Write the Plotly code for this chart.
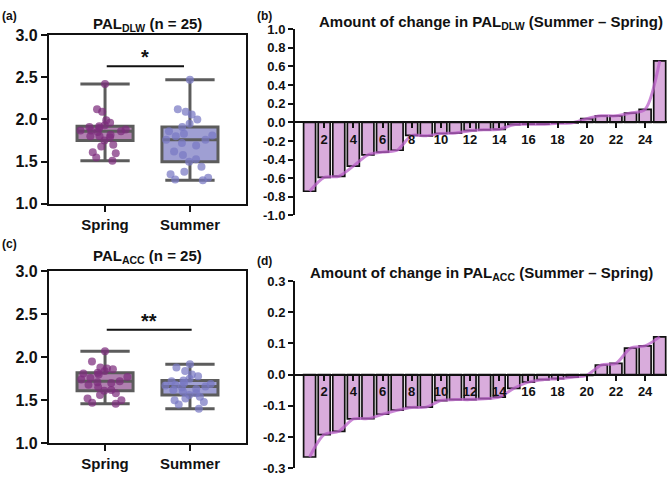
import numpy as np
import plotly.graph_objects as go

# ---------------- data ----------------
seasons = ["Spring", "Summer"]

dlw_spring = [1.51, 1.55, 1.60, 1.61, 1.68, 1.70, 1.75, 1.79, 1.80, 1.80, 1.82, 1.85, 1.86,
              1.87, 1.87, 1.88, 1.90, 1.91, 1.92, 1.93, 1.96, 1.99, 2.09, 2.12, 2.42]
dlw_summer = [1.28, 1.29, 1.31, 1.35, 1.38, 1.44, 1.50, 1.53, 1.58, 1.62, 1.69, 1.72, 1.76,
              1.76, 1.80, 1.81, 1.83, 1.86, 1.91, 1.95, 2.00, 2.06, 2.09, 2.12, 2.47]
acc_spring = [1.46, 1.47, 1.50, 1.52, 1.56, 1.58, 1.61, 1.62, 1.65, 1.68, 1.70, 1.71, 1.72,
              1.74, 1.76, 1.77, 1.80, 1.81, 1.82, 1.84, 1.86, 1.87, 1.88, 1.95, 2.07]
acc_summer = [1.40, 1.45, 1.48, 1.50, 1.52, 1.54, 1.56, 1.58, 1.60, 1.62, 1.63, 1.65, 1.66,
              1.67, 1.68, 1.69, 1.70, 1.72, 1.73, 1.75, 1.78, 1.80, 1.84, 1.88, 1.92]

ranks = list(range(1, 26))
dlw_change = [-0.74, -0.59, -0.58, -0.47, -0.35, -0.32, -0.30, -0.14, -0.145, -0.12, -0.115,
              -0.09, -0.08, -0.075, -0.025, -0.02, -0.02, -0.01, -0.005, 0.04, 0.07, 0.07,
              0.10, 0.14, 0.66]
acc_change = [-0.264, -0.192, -0.182, -0.142, -0.141, -0.127, -0.114, -0.105, -0.104, -0.083,
              -0.080, -0.080, -0.077, -0.072, -0.044, -0.024, -0.016, -0.013, -0.008, -0.002,
              0.031, 0.036, 0.085, 0.092, 0.121]

sig_labels = ["*", "**"]
sig_levels = [2.63, 2.32]
sig_ends = [0.93, 1.02]

# ---------------- helpers ----------------
W, H = 669, 484
FONT = "Arial, Liberation Sans, sans-serif"


def px_x(v):
    return v / W


def px_y(v):
    return 1 - v / H


spring_pt = "rgba(125,45,125,0.72)"
spring_fill = "rgba(150,85,150,0.75)"
summer_pt = "rgba(120,120,195,0.72)"
summer_fill = "rgba(135,135,200,0.8)"
box_line = "#5c5c5c"

fig = go.Figure()


def add_boxes(xa, ya, groups):
    for i, (vals, fill, pt) in enumerate(groups):
        arr = np.array(vals)
        q1, med, q3 = np.percentile(arr, [25, 50, 75])
        fig.add_trace(go.Box(
            x=[i], q1=[q1], median=[med], q3=[q3],
            lowerfence=[arr.min()], upperfence=[arr.max()],
            width=0.66, whiskerwidth=0.88, boxpoints=False,
            fillcolor=fill, line=dict(color=box_line, width=3),
            xaxis=xa, yaxis=ya, showlegend=False, hoverinfo="skip"))
        fig.add_trace(go.Box(
            x=[i] * len(vals), y=vals, width=0.66, boxpoints="all", jitter=0.9,
            pointpos=0, fillcolor="rgba(0,0,0,0)",
            line=dict(color="rgba(0,0,0,0)", width=0),
            marker=dict(color=pt, size=8),
            xaxis=xa, yaxis=ya, showlegend=False, hoverinfo="y"))


add_boxes("x", "y", [(dlw_spring, spring_fill, spring_pt), (dlw_summer, summer_fill, summer_pt)])
add_boxes("x3", "y3", [(acc_spring, spring_fill, spring_pt), (acc_summer, summer_fill, summer_pt)])

bar_fill = "#d9acdc"
curve = "rgba(185,95,200,0.75)"
for xa, ya, vals in [("x2", "y2", dlw_change), ("x4", "y4", acc_change)]:
    fig.add_trace(go.Bar(x=ranks, y=vals, marker=dict(color=bar_fill, line=dict(color="#111", width=1.7)),
                         xaxis=xa, yaxis=ya, showlegend=False))
    fig.add_trace(go.Scatter(x=ranks, y=vals, mode="lines",
                             line=dict(color=curve, width=3, shape="spline", smoothing=0.8),
                             xaxis=xa, yaxis=ya, showlegend=False, hoverinfo="skip"))

# domains
dom_a_x = [px_x(49), px_x(246)]
dom_a_y = [px_y(203), px_y(28)]
dom_c_y = [px_y(451), px_y(273)]
dom_b_x = [px_x(295), px_x(667)]
dom_b_y = [px_y(215), px_y(22)]
dom_d_y = [px_y(477), px_y(283)]

xtickfont_box = dict(family=FONT, size=15, color="#111")
ytickfont_box = dict(family=FONT, size=16, color="#111")
tickfont_bar = dict(family=FONT, size=13, color="#111")

box_x = dict(range=[-0.66, 1.66], tickvals=[0, 1], ticktext=[f"<b>{s}</b>" for s in seasons],
             showline=True, linewidth=2.2, linecolor="#111", mirror=True, ticks="outside",
             ticklen=6, tickwidth=2, tickcolor="#111", tickfont=xtickfont_box, showgrid=False,
             zeroline=False, fixedrange=True)
box_y = dict(range=[1.0, 3.0], tickvals=[1.0, 1.5, 2.0, 2.5, 3.0],
             ticktext=["<b>1.0</b>", "<b>1.5</b>", "<b>2.0</b>", "<b>2.5</b>", "<b>3.0</b>"],
             showline=True, linewidth=2.2, linecolor="#111", mirror=True, ticks="outside",
             ticklen=6, tickwidth=2, tickcolor="#111", tickfont=ytickfont_box, showgrid=False,
             zeroline=False)

fig.update_layout(
    width=W, height=H, margin=dict(l=0, r=0, t=0, b=0),
    paper_bgcolor="white", plot_bgcolor="white", boxmode="overlay", bargap=0.18,
    font=dict(family=FONT, color="#111"),
    xaxis=dict(domain=dom_a_x, anchor="y", **box_x),
    yaxis=dict(domain=dom_a_y, anchor="x", **box_y),
    xaxis3=dict(domain=dom_a_x, anchor="y3", **box_x),
    yaxis3=dict(domain=dom_c_y, anchor="x3", **box_y),
)

bar_x_common = dict(range=[0, 25.5], tickvals=list(range(2, 26, 2)),
                    ticktext=[f"<b>{v}</b>" for v in range(2, 26, 2)],
                    showline=True, linewidth=2, linecolor="#111", ticks="outside", ticklen=5,
                    tickwidth=1.8, tickcolor="#111", tickfont=tickfont_bar, showgrid=False,
                    zeroline=False, anchor="free", fixedrange=True)
fig.update_layout(
    xaxis2=dict(domain=dom_b_x, position=(dom_b_y[0] + dom_b_y[1]) / 2, **bar_x_common),
    xaxis4=dict(domain=dom_b_x, position=(dom_d_y[0] + dom_d_y[1]) / 2, **bar_x_common),
)
b_ticks = [round(-1 + 0.2 * i, 1) for i in range(11)]
d_ticks = [round(-0.3 + 0.1 * i, 1) for i in range(7)]
bar_y_common = dict(showline=True, linewidth=2, linecolor="#111", ticks="outside", ticklen=5,
                    tickwidth=1.8, tickcolor="#111", tickfont=tickfont_bar, showgrid=False,
                    zeroline=False)
fig.update_layout(
    yaxis2=dict(domain=dom_b_y, anchor="x2", range=[-1, 1], tickvals=b_ticks,
                ticktext=[f"<b>{v:.1f}</b>" for v in b_ticks], **bar_y_common),
    yaxis4=dict(domain=dom_d_y, anchor="x4", range=[-0.3, 0.3], tickvals=d_ticks,
                ticktext=[f"<b>{v:.1f}</b>" for v in d_ticks], **bar_y_common),
)

ann = []
title_font = dict(family=FONT, size=15, color="#111")
ann.append(dict(text="<b>PAL<sub>DLW</sub> (n = 25)</b>", x=px_x(147), y=px_y(17), xref="paper",
                yref="paper", showarrow=False, font=title_font, xanchor="center", yanchor="middle"))
ann.append(dict(text="<b>PAL<sub>ACC</sub> (n = 25)</b>", x=px_x(147), y=px_y(258), xref="paper",
                yref="paper", showarrow=False, font=title_font, xanchor="center", yanchor="middle"))
ann.append(dict(text="<b>Amount of change in PAL<sub>DLW</sub> (Summer – Spring)</b>", x=px_x(491),
                y=px_y(15), xref="paper", yref="paper", showarrow=False, font=title_font,
                xanchor="center", yanchor="middle"))
ann.append(dict(text="<b>Amount of change in PAL<sub>ACC</sub> (Summer – Spring)</b>", x=px_x(481),
                y=px_y(275), xref="paper", yref="paper", showarrow=False, font=title_font,
                xanchor="center", yanchor="middle"))
lab_font = dict(family=FONT, size=12, color="#111")
for t, x, y in [("(a)", 0, 8), ("(b)", 255, 8), ("(c)", 0, 245), ("(d)", 255, 262)]:
    ann.append(dict(text=f"<b>{t}</b>", x=px_x(x), y=px_y(y), xref="paper", yref="paper",
                    showarrow=False, font=lab_font, xanchor="left", yanchor="middle"))

shapes = []
for (xa, ya), lab, lev, end in zip([("x", "y"), ("x3", "y3")], sig_labels, sig_levels, sig_ends):
    shapes.append(dict(type="line", xref=xa, yref=ya, x0=0.02, x1=end, y0=lev, y1=lev,
                       line=dict(color="#111", width=2)))
    ann.append(dict(text=f"<b>{lab}</b>", x=(0.02 + end) / 2, y=lev, xref=xa, yref=ya,
                    showarrow=False, font=dict(family=FONT, size=20, color="#111"),
                    xanchor="center", yanchor="bottom", yshift=-4))

fig.update_layout(annotations=ann, shapes=shapes)

fig.write_html("out.html")
